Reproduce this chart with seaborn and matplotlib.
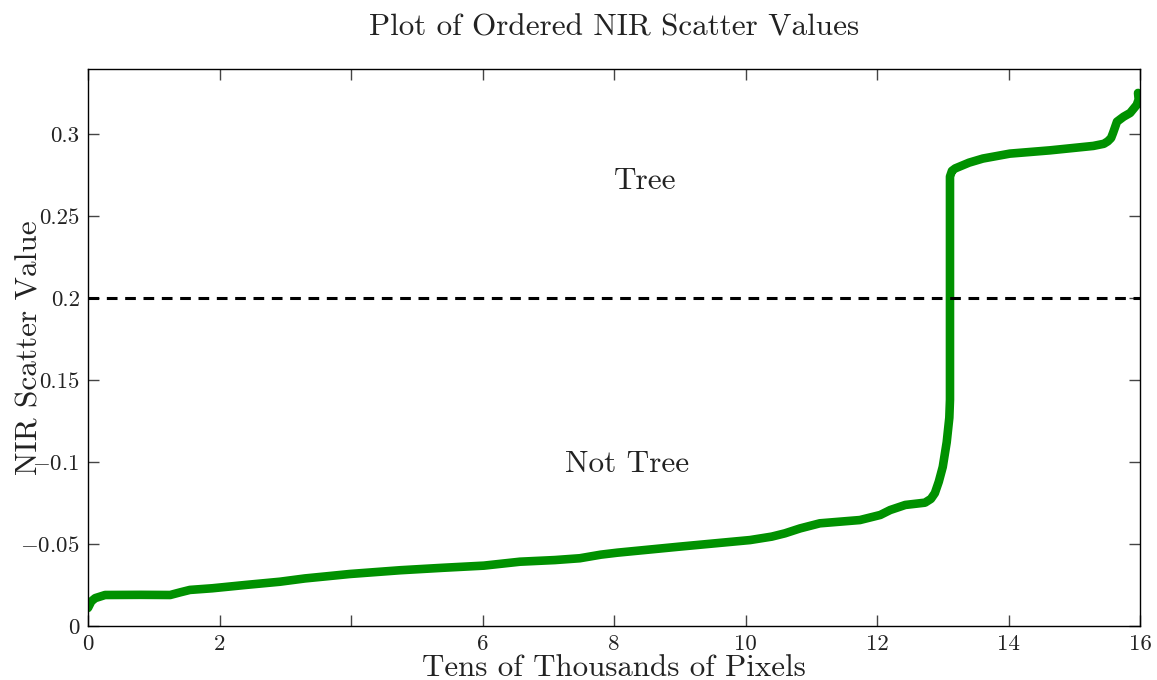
import matplotlib
matplotlib.use("Agg")
import matplotlib.pyplot as plt
import seaborn as sns
import pandas as pd

# Ordered NIR scatter values (x in tens of thousands of pixels)
pixels = [0.0, 0.05, 0.11, 0.26, 0.8, 1.25, 1.4, 1.55, 1.89, 2.39, 2.92,
          3.3, 3.68, 3.98, 4.75, 5.4, 6.02, 6.57, 7.1, 7.48, 7.8, 8.05,
          9.0, 10.07, 10.4, 10.6, 10.83, 11.13, 11.74, 12.05, 12.2, 12.43,
          12.73, 12.82, 12.88, 12.94, 13.0, 13.06, 13.1, 13.11, 13.11,
          13.14, 13.19, 13.4, 13.61, 14.02, 14.63, 15.29, 15.45, 15.51,
          15.56, 15.59, 15.65, 15.75, 15.85, 15.95, 15.98, 15.97]
scatter = [0.011, 0.015, 0.017, 0.0189, 0.019, 0.0189, 0.0205, 0.022,
           0.023, 0.025, 0.027, 0.029, 0.0305, 0.0317, 0.034, 0.0355,
           0.0368, 0.0392, 0.0402, 0.0413, 0.0435, 0.0447, 0.0484, 0.0524,
           0.0545, 0.0565, 0.0595, 0.0626, 0.0646, 0.0677, 0.0707, 0.0738,
           0.0752, 0.0775, 0.081, 0.088, 0.097, 0.112, 0.127, 0.138, 0.274,
           0.2775, 0.279, 0.2825, 0.285, 0.288, 0.290, 0.2927, 0.2940,
           0.2955, 0.2975, 0.3006, 0.3075, 0.3105, 0.3128, 0.3177, 0.321,
           0.325]

threshold = 0.2
xtick_values = [0, 2, 4, 6, 8, 10, 12, 14, 16]
xtick_labels = ["0", "2", "", "6", "8", "10", "12", "14", "16"]
ytick_values = [0, 0.05, 0.1, 0.15, 0.2, 0.25, 0.3]
ytick_labels = ["0", "$-$0.05", "$-$0.1", "0.15", "0.2", "0.25", "0.3"]

sns.set_style("ticks")
plt.rcParams["font.family"] = ["cmr10", "DejaVu Serif"]
plt.rcParams["mathtext.fontset"] = "cm"
plt.rcParams["axes.unicode_minus"] = False

df = pd.DataFrame({"pixels": pixels, "scatter": scatter})

fig = plt.figure(figsize=(11.57, 6.80), dpi=100)
ax = fig.add_axes([88 / 1157, 1 - 626 / 680, (1140 - 88) / 1157, (626 - 69) / 680])

sns.lineplot(data=df, x="pixels", y="scatter", sort=False, estimator=None,
             color="#009100", linewidth=6.2, solid_capstyle="round",
             solid_joinstyle="round", ax=ax)
ax.axhline(threshold, color="black", linestyle=(0, (3.5, 2.5)), linewidth=2.2)

ax.set_xlim(0, 16)
ax.set_ylim(0, 0.3396)
ax.set_xticks(xtick_values)
ax.set_xticklabels(xtick_labels)
ax.set_yticks(ytick_values)
ax.set_yticklabels(ytick_labels)
ax.tick_params(direction="in", length=8, width=1, color="#444444",
               labelsize=16.5, top=True, right=True, pad=6,
               labelcolor="#222222")

for s in ax.spines.values():
    s.set_visible(True)
    s.set_linewidth(1.0)
    s.set_color("black")

ax.text(8.47, 0.271, "Tree", fontsize=22.5, ha="center", va="center", color="#222222")
ax.text(8.2, 0.0988, "Not Tree", fontsize=22.5, ha="center", va="center", color="#222222")

ax.set_xlabel("Tens of Thousands of Pixels", fontsize=22.3, color="#222222", labelpad=0)
ax.set_ylabel("NIR Scatter Value", fontsize=22.5, color="#222222")
ax.yaxis.set_label_coords(-0.042, 0.5)
ax.set_title("Plot of Ordered NIR Scatter Values", fontsize=22.4, color="#222222", pad=24)

fig.savefig("out.png", dpi=100)
